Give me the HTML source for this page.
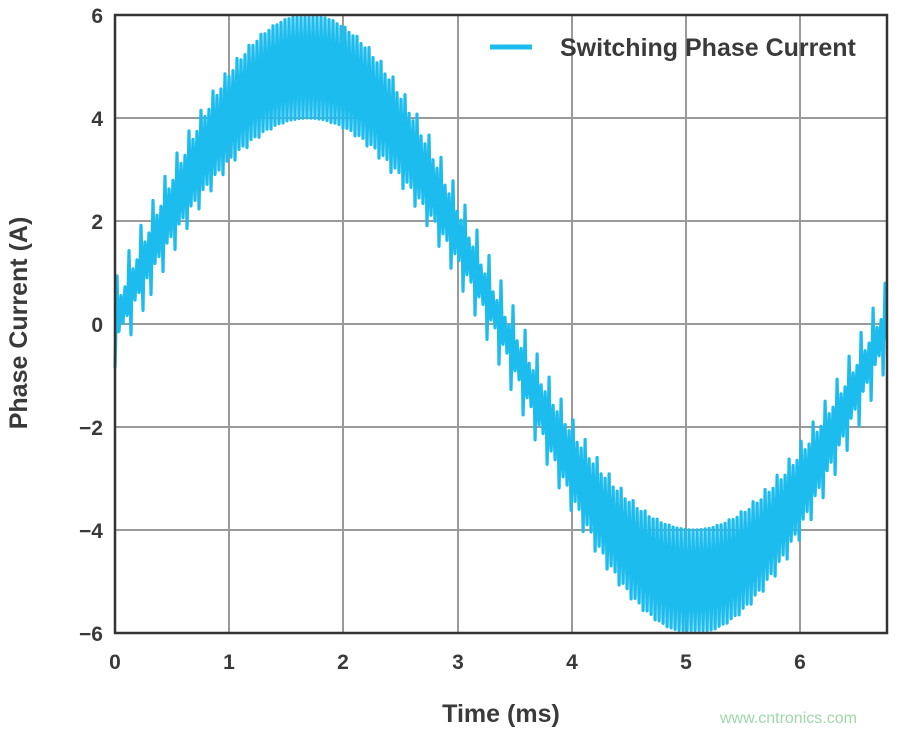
<!DOCTYPE html>
<html><head><meta charset="utf-8"><style>
body{margin:0;background:#fff;width:900px;height:733px;overflow:hidden}
svg text{font-family:"Liberation Sans",sans-serif;font-weight:bold;fill:#3a3a3a}
</style></head><body>
<svg width="900" height="733" xmlns="http://www.w3.org/2000/svg">
<g stroke="#9a9a9a" stroke-width="2">
<line x1="229" y1="15" x2="229" y2="633"/><line x1="343" y1="15" x2="343" y2="633"/>
<line x1="458" y1="15" x2="458" y2="633"/><line x1="572" y1="15" x2="572" y2="633"/>
<line x1="686" y1="15" x2="686" y2="633"/><line x1="800" y1="15" x2="800" y2="633"/>
<line x1="115" y1="118" x2="887" y2="118"/><line x1="115" y1="221" x2="887" y2="221"/>
<line x1="115" y1="324" x2="887" y2="324"/><line x1="115" y1="427" x2="887" y2="427"/>
<line x1="115" y1="530" x2="887" y2="530"/>
</g>
<path id="w" fill="none" stroke="#1cbcee" stroke-width="3.2" stroke-linejoin="round"/>
<rect x="115" y="15" width="772" height="618" fill="none" stroke="#333" stroke-width="2.5"/>
<line x1="490" y1="47" x2="532" y2="47" stroke="#1cbcee" stroke-width="5"/>
<text x="560" y="56" font-size="25">Switching Phase Current</text>
<g font-size="21" text-anchor="end">
<text x="103" y="23">6</text><text x="103" y="126">4</text><text x="103" y="229">2</text>
<text x="103" y="332">0</text><text x="103" y="435">−2</text><text x="103" y="538">−4</text>
<text x="103" y="641">−6</text></g>
<g font-size="21" text-anchor="middle">
<text x="115" y="669">0</text><text x="229" y="669">1</text><text x="343" y="669">2</text>
<text x="458" y="669">3</text><text x="572" y="669">4</text><text x="686" y="669">5</text>
<text x="800" y="669">6</text></g>
<text x="501" y="722" font-size="25" text-anchor="middle">Time (ms)</text>
<text transform="translate(27,323) rotate(-90)" font-size="25" text-anchor="middle">Phase Current (A)</text>
<text x="720" y="723" font-size="16" style="font-weight:normal;fill:#9fd8a8">www.cntronics.com</text>
</svg>
<script>
var d="",T=6.75,P=0.035,n=0;
for(var t=0;t<=T;t+=P/6){
 var s=Math.sin(2*Math.PI*t/T);
 var k=Math.floor(t/P);
 var ph=(t/P)%1; var tri=ph<0.5?(ph*4-1):(3-ph*4);
 var base=(k%3==0)?0.85:0.3;
 var m=Math.pow(Math.abs(s),1.5);
 var A=base*(1-m)+1.0*m;
 var v=5*s+A*tri;
 if(v>5.95)v=5.95; if(v<-5.95)v=-5.95;
 var x=115+t*114.3, y=324-v*51.5;
 d+=(n++?"L":"M")+x.toFixed(1)+","+y.toFixed(1);
}
document.getElementById("w").setAttribute("d",d);
</script>
</body></html>
